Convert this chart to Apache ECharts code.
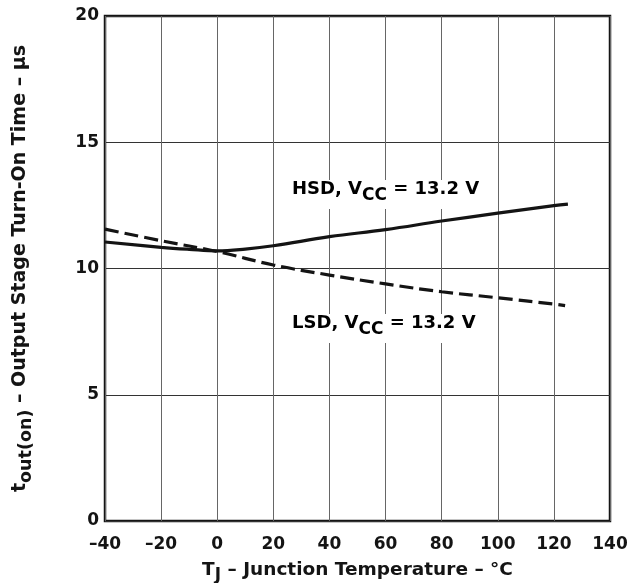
<!DOCTYPE html>
<html>
<head>
<meta charset="utf-8">
<script src="https://cdn.jsdelivr.net/npm/echarts@6/dist/echarts.min.js"></script>
<style>
html,body{margin:0;padding:0;background:#fff;}
#chart{width:630px;height:583px;}
</style>
</head>
<body>
<div id="chart"></div>
<script>
// Data
var hsdTemp = [-40, -20, -10, 0, 10, 20, 40, 60, 80, 100, 120, 125];
var hsdTime = [11.05, 10.84, 10.76, 10.70, 10.77, 10.90, 11.26, 11.54, 11.88, 12.19, 12.49, 12.55];
var lsdTemp = [-40, -20, 0, 20, 40, 60, 80, 100, 120, 124];
var lsdTime = [11.56, 11.10, 10.67, 10.14, 9.74, 9.39, 9.08, 8.84, 8.59, 8.53];
var xTicks = [-40, -20, 0, 20, 40, 60, 80, 100, 120, 140];
var yTicks = [0, 5, 10, 15, 20];

var FONT = 'DejaVu Sans';
var C = '#141414';

function pairs(xs, ys) { return xs.map(function (x, i) { return [x, ys[i]]; }); }

var chart = echarts.init(document.getElementById('chart'), null, { renderer: 'canvas' });

function rich(size, subSize, drop) {
  return {
    b: { fontFamily: FONT, fontWeight: 'bold', fontSize: size, color: C, verticalAlign: 'top', lineHeight: size + 3 },
    s: { fontFamily: FONT, fontWeight: 'bold', fontSize: subSize, color: C, verticalAlign: 'top', lineHeight: size + 3, padding: [drop, 0, 0, 0] }
  };
}

chart.setOption({
  animation: false,
  backgroundColor: '#fff',
  grid: {
    left: 105, right: 20, top: 16, bottom: 62, containLabel: false, outerBoundsMode: 'none',
    show: true, borderColor: C, borderWidth: 2.5, backgroundColor: 'transparent'
  },
  xAxis: {
    type: 'value', min: xTicks[0], max: xTicks[xTicks.length - 1], interval: 20,
    axisLine: { show: false }, axisTick: { show: false },
    splitLine: { show: true, lineStyle: { color: '#666', width: 1 } },
    axisLabel: {
      margin: 15, color: C, fontFamily: FONT, fontWeight: 'bold', fontSize: 17,
      formatter: function (v) { return String(v).replace('-', '\u2013'); }
    },
    name: '{b|T}{s|J}{b| \u2013 Junction Temperature \u2013 \u00B0C}',
    nameLocation: 'middle', nameGap: 40,
    nameTextStyle: { rich: rich(18.5, 17, 6) }
  },
  yAxis: {
    type: 'value', min: yTicks[0], max: yTicks[yTicks.length - 1], interval: 5,
    axisLine: { show: false }, axisTick: { show: false },
    splitLine: { show: true, lineStyle: { color: '#333', width: 1 } },
    axisLabel: { margin: 6, color: C, fontFamily: FONT, fontWeight: 'bold', fontSize: 17 },
    name: '{b|t}{s|out(on)}{b| \u2013 Output Stage Turn-On Time \u2013 \u00B5s}',
    nameLocation: 'middle', nameGap: 72,
    nameTextStyle: { rich: rich(19, 17.5, 6) }
  },
  graphic: [
    {
      type: 'text', left: 286, top: 180, z: 50,
      style: {
        text: '{b|HSD, V}{s|CC}{b| = 13.2 V}', rich: rich(18, 17, 7),
        backgroundColor: '#fff', padding: [0, 6, 8, 6]
      }
    },
    {
      type: 'text', left: 286, top: 314, z: 50,
      style: {
        text: '{b|LSD, V}{s|CC}{b| = 13.2 V}', rich: rich(18, 17, 7),
        backgroundColor: '#fff', padding: [0, 6, 8, 6]
      }
    }
  ],
  series: [
    {
      name: 'HSD', type: 'line', data: pairs(hsdTemp, hsdTime), smooth: 0.4,
      showSymbol: false, lineStyle: { color: C, width: 3.2 }, z: 10
    },
    {
      name: 'LSD', type: 'line', data: pairs(lsdTemp, lsdTime), smooth: 0.4,
      showSymbol: false, lineStyle: { color: C, width: 3.2, type: [14, 6] }, z: 10
    }
  ]
});
</script>
</body>
</html>
